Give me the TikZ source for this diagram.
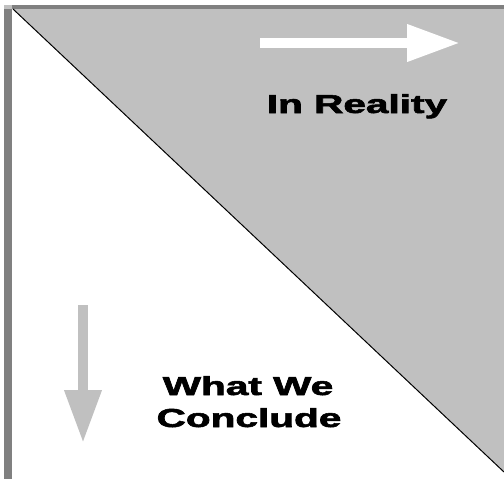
\documentclass[tikz,border=0pt]{standalone}
\usepackage{fontspec}
\setmainfont{Liberation Sans}
\newfontfamily\heavyfont{Liberation Sans Bold}[FakeBold=2]
\usetikzlibrary{arrows.meta, positioning}

\definecolor{paneGray}{HTML}{C0C0C0}
\definecolor{edgeGray}{HTML}{808080}

\begin{document}
\begin{tikzpicture}[
            x=1pt, y=-1pt,
            label/.style={font=\heavyfont\fontsize{26}{30}\selectfont, xscale=1.56, inner sep=0pt, anchor=base},
            bigarrow/.style={line width=10pt, -{Triangle[length=53pt, width=35pt]}}
            ]
            \useasboundingbox (0,0) rectangle (504,479);

            % fondo y bordes
            \fill[paneGray] (13,9) -- (504,9) -- (504,472) -- cycle;
            \fill[edgeGray] (12,5) rectangle (504,9);
            \fill[paneGray] (4,5) rectangle (12,9);
            \fill[edgeGray] (4,9) rectangle (12,479);
            \draw[line width=1pt] (13,9) -- (504,472);

            % flechas
            \coordinate (rstart) at (260,43);
            \coordinate (rend) at (460,43);
            \draw[bigarrow, white] (rstart) -- (rend);
            \coordinate (dstart) at (83,305);
            \coordinate (dend) at (83,443);
            \draw[bigarrow, paneGray] (dstart) -- (dend);

            % textos
            \node[label] (reality) at (357,113) {In Reality};
            \node[label] (what) at (248,395) {What We};
            \node[label] (conclude) at (249,427) {Conclude};

        \end{tikzpicture}
\end{document}
